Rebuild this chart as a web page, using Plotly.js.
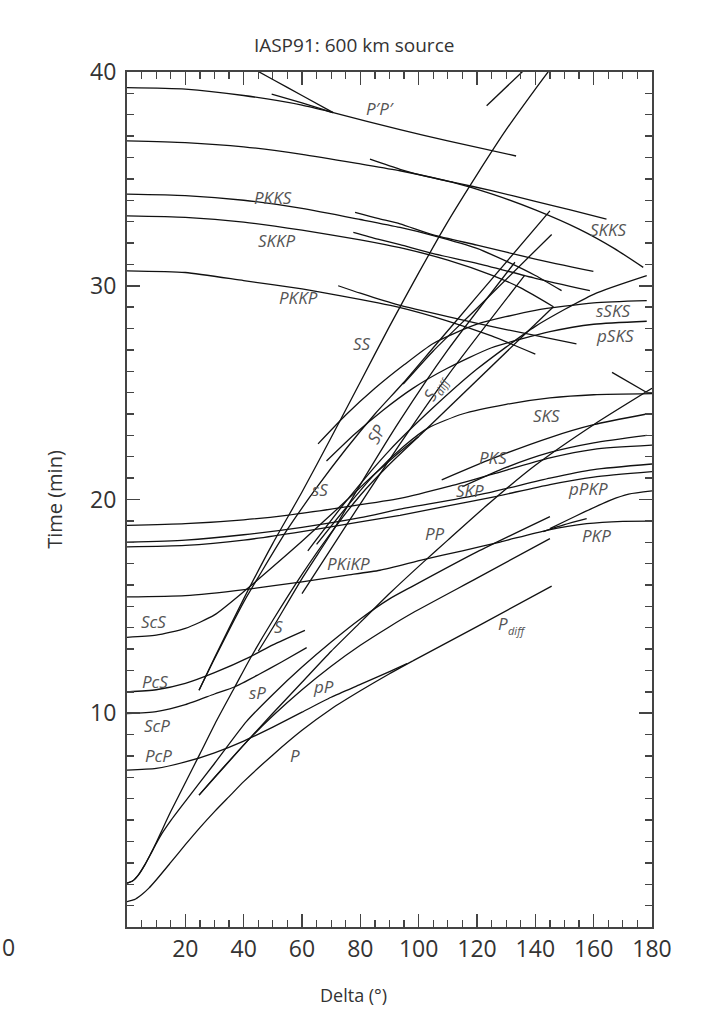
<!DOCTYPE html>
<html><head><meta charset="utf-8">
<script src="https://cdn.plot.ly/plotly-3.0.1.min.js"></script>
<style>html,body{margin:0;padding:0;background:#fff;}#chart{width:714px;height:1024px;}</style>
</head><body><div id="chart"></div>
<script>
// ---- travel-time branches: distance (deg) and time (min) ----
const P_d = [0,2.5,5,7.5,10,15,20,25,30,35,40,50,60,70,80,90,98];
const P_t = [1.19,1.28,1.51,1.82,2.2,3.02,3.85,4.65,5.4,6.1,6.8,8.05,9.2,10.2,11.05,11.85,12.45];
const Pdiff_d = [98,120,145.6];
const Pdiff_t = [12.45,14.05,15.95];
const PcP_d = [0,10,20,30,40,50,60,70,80,90,96];
const PcP_t = [7.34,7.42,7.72,8.15,8.7,9.35,10.05,10.75,11.35,11.95,12.32];
const pP_d = [24.7,30,41,50,60,70,80,90,98,120,145];
const pP_t = [6.17,7.0,8.66,9.88,11.1,12.2,13.18,14.05,14.7,16.32,18.17];
const PP_d = [24.7,30,41,50,60,70,80,90,101.6,110,124.4,140,160,180];
const PP_t = [6.17,6.98,8.66,10.0,11.45,12.9,14.25,15.6,17.07,18.1,19.85,21.6,23.5,25.2];
const sP_d = [0,2,4,6,8,10,12,15,20,30,41,50,60,70,80,90,98,120,145];
const sP_t = [2.05,2.16,2.45,2.88,3.38,3.9,4.38,4.98,5.88,7.65,9.62,10.88,12.16,13.33,14.41,15.35,15.95,17.55,19.2];
const S_d = [0,2,4,6,8,10,12,15,20,25,30.7,37,42.2,50,60,70,80,90,100];
const S_t = [2.05,2.16,2.45,2.88,3.39,3.94,4.53,5.4,6.75,8.1,9.65,11.24,12.55,14.35,16.5,18.45,20.2,21.65,22.95];
const Sdiff_d = [100,146.2];
const Sdiff_t = [22.95,29.02];
const ScS_d = [0,10,20,30,41,50,60,75.3,85,95,100];
const ScS_t = [13.55,13.65,13.97,14.6,15.8,16.85,18.05,19.96,21.2,22.4,22.95];
const ScP_d = [0,10,20,30,37,45,53,61.6];
const ScP_t = [9.98,10.08,10.4,10.9,11.24,11.8,12.4,13.07];
const PcS_d = [0,10,20,30,42.2,50,61];
const PcS_t = [11.0,11.1,11.4,11.9,12.64,13.2,13.88];
const SS_d = [24.7,30,40,50,60,70,80,90,100,110,120,130,140,146];
const SS_t = [11.08,12.6,15.35,17.95,20.35,22.9,25.5,28.1,30.6,33.0,35.2,37.3,39.2,40.3];
const sS_d = [24.7,30,40,46.7,55,65,75,85,94.7,105,120,145];
const sS_t = [11.08,12.55,15.2,16.75,18.6,20.55,22.35,24.0,25.45,27.1,29.5,33.5];
const pS_d = [94.7,105,120,145.6];
const pS_t = [25.4,26.95,28.95,32.4];
const SP_d = [45,50,60,70.7,80,93.6,110,133];
const SP_t = [12.9,14.0,16.3,18.56,20.7,23.7,27.0,31.1];
const PS_d = [60,70,80,93.6,110,136.4];
const PS_t = [15.6,17.7,19.8,22.6,25.8,30.5];
const PKiKP_d = [0,20,41,60,75,86.7,101.6,115,127.9,143.9,157.6,170,180];
const PKiKP_t = [15.44,15.5,15.8,16.15,16.45,16.69,17.19,17.6,18.01,18.56,18.87,18.98,18.99];
const PKPab_d = [145,150,157,165.6,172,180];
const PKPab_t = [18.64,18.97,19.43,19.96,20.25,20.4];
const PKPbc_d = [142.7,150,157.6];
const PKPbc_t = [18.5,18.82,19.1];
const PKS_d = [0,20,40,54.7,75,93.6,110,125.6,145,160,180];
const PKS_t = [18.79,18.87,19.05,19.26,19.65,20.05,20.6,21.2,21.95,22.35,22.54];
const SKP_d = [0,20,40,60,80,93.6,110,125,145,160,180];
const SKP_t = [18.0,18.1,18.35,18.7,19.15,19.55,19.95,20.35,21.0,21.4,21.66];
const pPKP_d = [0,20,40,60,80,93.6,110,125,145,160,180];
const pPKP_t = [17.78,17.85,18.1,18.5,18.95,19.26,19.7,20.1,20.7,21.05,21.3];
const PKSab_d = [107.9,125,145,160,178.2];
const PKSab_t = [20.92,21.9,22.9,23.5,24.0];
const SKPab_d = [115,130,145,160,178.2];
const SKPab_t = [20.6,21.5,22.2,22.65,23.0];
const SKS_d = [65,75,85,95,103.3,115,130,145,160,180];
const SKS_t = [17.9,19.6,21.2,22.5,23.35,24.0,24.45,24.75,24.9,24.95];
const SKSb_d = [166.3,178.5];
const SKSb_t = [25.95,24.98];
const sSKS_d = [65.5,75,85,95,105,120,140,160,178.2];
const sSKS_t = [22.6,23.95,25.2,26.3,27.3,28.2,28.85,29.2,29.3];
const pSKS_d = [68.4,78,88,98,110,125,145,160,178.2];
const pSKS_t = [21.8,23.05,24.2,25.2,26.15,27.1,27.85,28.2,28.34];
const SKKS_d = [62,75,90,105,120,140,160,178.2];
const SKKS_t = [17.6,19.9,22.3,24.3,26.1,28.1,29.6,30.47];
const SKKSr_d = [0,20,40,60,80,93.6,112,125,140,155,167,177];
const SKKSr_t = [36.78,36.7,36.5,36.15,35.7,35.38,34.82,34.3,33.55,32.65,31.75,30.86];
const SKKSb_d = [83.3,93.6,103,112,125,140,152,164.4];
const SKKSb_t = [35.92,35.45,35.1,34.84,34.45,33.95,33.55,33.12];
const PKKS_d = [0,20,40,60,80,93.6,105,120,130,140,149];
const PKKS_t = [34.29,34.22,34.0,33.62,33.1,32.73,32.35,31.75,31.15,30.48,29.77];
const PKKSb_d = [78.2,86,93.6,105,120,140,159.9];
const PKKSb_t = [33.43,33.15,32.9,32.38,31.9,31.25,30.67];
const SKKP_d = [0,20,40,60,80,93.6,110,125,135,146.2];
const SKKP_t = [33.27,33.2,32.98,32.6,32.15,31.78,31.2,30.5,29.9,29.02];
const SKKPb_d = [77.6,86,93.6,105,120,140,158.7];
const SKKPb_t = [32.5,32.18,31.92,31.5,31.05,30.35,29.77];
const PKKP_d = [0,20,40,60,72.4,93,110,125,140];
const PKKP_t = [30.7,30.62,30.24,29.85,29.55,29.0,28.35,27.65,26.8];
const PKKPb_d = [72.4,80,93,110,130,154.1];
const PKKPb_t = [30.0,29.65,29.1,28.55,27.95,27.28];
const PpPp_d = [0,20,40,60,70.7,93.6,110,133.4];
const PpPp_t = [39.27,39.2,38.9,38.45,38.1,37.3,36.78,36.07];
const PpPpb1_d = [44,50,60,70.7];
const PpPpb1_t = [40.1,39.65,38.9,38.1];
const PpPpb2_d = [49.6,60,70.7];
const PpPpb2_t = [38.96,38.55,38.1];
const PpPpc_d = [123.3,137];
const PpPpc_t = [38.42,40.2];

const branches = [
  ['P',P_d,P_t],['Pdiff',Pdiff_d,Pdiff_t],['PcP',PcP_d,PcP_t],['pP',pP_d,pP_t],['PP',PP_d,PP_t],
  ['sP',sP_d,sP_t],['S',S_d,S_t],['Sdiff',Sdiff_d,Sdiff_t],['ScS',ScS_d,ScS_t],['ScP',ScP_d,ScP_t],
  ['PcS',PcS_d,PcS_t],['SS',SS_d,SS_t],['sS',sS_d,sS_t],['pS',pS_d,pS_t],['SP',SP_d,SP_t],['PS',PS_d,PS_t],
  ['PKiKP',PKiKP_d,PKiKP_t],['PKPab',PKPab_d,PKPab_t],['PKPbc',PKPbc_d,PKPbc_t],
  ['PKS',PKS_d,PKS_t],['SKP',SKP_d,SKP_t],['pPKP',pPKP_d,pPKP_t],['PKSab',PKSab_d,PKSab_t],['SKPab',SKPab_d,SKPab_t],
  ['SKS',SKS_d,SKS_t],['SKSb',SKSb_d,SKSb_t],['sSKS',sSKS_d,sSKS_t],['pSKS',pSKS_d,pSKS_t],
  ['SKKS',SKKS_d,SKKS_t],['SKKSr',SKKSr_d,SKKSr_t],['SKKSb',SKKSb_d,SKKSb_t],
  ['PKKS',PKKS_d,PKKS_t],['PKKSb',PKKSb_d,PKKSb_t],['SKKP',SKKP_d,SKKP_t],['SKKPb',SKKPb_d,SKKPb_t],
  ['PKKP',PKKP_d,PKKP_t],['PKKPb',PKKPb_d,PKKPb_t],
  ["P'P'",PpPp_d,PpPp_t],["P'P' b1",PpPpb1_d,PpPpb1_t],["P'P' b2",PpPpb2_d,PpPpb2_t],["P'P' c",PpPpc_d,PpPpc_t]
];

// phase labels (subscripts drawn as separate smaller texts)
const labelText = ['P′P′','PKKS','SKKP','PKKP','SKKS','sSKS','pSKS','SS','SP','S','diff','SKS','PKS','SKP','pPKP','sS','PP','PKiKP','PKP','ScS','S','P','diff','PcS','sP','pP','ScP','PcP','P'];
const labelX = [86.7,50.2,51.3,58.7,165.0,166.7,167.3,80.5,85.6,103.9,108.0,143.9,125.6,117.6,158.1,66.2,105.6,75.9,161.0,9.0,51.9,129.0,133.7,9.6,44.6,67.3,10.2,10.7,57.6];
const labelY = [38.27,34.13,32.1,29.46,32.65,28.84,27.67,27.28,23.07,24.86,25.3,23.93,21.98,20.43,20.5,20.46,18.4,17.0,18.32,14.27,14.04,14.2,13.86,11.47,10.99,11.23,9.44,8.04,8.04];
const labelSize = [17,17,17,17,17,17,17,17,17,17,11,17,17,17,17,17,17,17,17,17,17,17,11,17,17,17,17,17,17];
const labelAngle = [0,0,0,0,0,0,0,0,-62,-62,-62,0,0,0,0,0,0,0,0,0,0,0,0,0,0,0,0,0,0];

const traces = branches.map(b => ({
  type:'scatter', mode:'lines', name:b[0], x:b[1], y:b[2],
  line:{color:'#111', width:1.3, shape:'spline', smoothing:0.6},
  hoverinfo:'name+x+y', showlegend:false, cliponaxis:true
}));

const annotations = labelText.map((t,i) => ({
  text:t, x:labelX[i], y:labelY[i], xref:'x', yref:'y', showarrow:false,
  xanchor:'center', yanchor:'middle',
  textangle:labelAngle[i], font:{family:'Open Sans, sans-serif', size:labelSize[i], color:'#555', style:'italic'}
}));
annotations.push({text:'Delta (°)', xref:'paper', yref:'paper', x:0.432, y:-0.0795,
  xanchor:'center', yanchor:'middle', showarrow:false,
  font:{family:'Open Sans, sans-serif', size:18, color:'#333'}});
annotations.push({text:'0', xref:'paper', yref:'paper', x:-0.226, y:-0.0234,
  xanchor:'center', yanchor:'middle', showarrow:false,
  font:{family:'Open Sans, sans-serif', size:23, color:'#333'}});

const axisCommon = {
  showgrid:false, zeroline:false, showline:true, linecolor:'#444', linewidth:2,
  mirror:'allticks', ticks:'inside', ticklen:13, tickwidth:1.6, tickcolor:'#444',
  tickfont:{family:'Open Sans, sans-serif', size:23, color:'#333'}
};

const layout = {
  width:714, height:1024,
  margin:{l:127, r:62, t:72, b:97},
  paper_bgcolor:'#fff', plot_bgcolor:'#fff',
  title:{text:'IASP91: 600 km source', x:0.496, xref:'container', xanchor:'center',
         y:0.956, yref:'container', yanchor:'middle',
         font:{family:'Open Sans, sans-serif', size:19, color:'#333'}},
  xaxis:Object.assign({}, axisCommon, {
    range:[0,180], tickmode:'array', tickvals:[20,40,60,80,100,120,140,160,180],
    minor:{dtick:5, tick0:0, ticks:'inside', ticklen:7, tickwidth:1.3, tickcolor:'#444', showgrid:false}
  }),
  yaxis:Object.assign({}, axisCommon, {
    range:[0,40], tickmode:'array', tickvals:[10,20,30,40], ticklabelstandoff:4,
    minor:{dtick:1, tick0:0, ticks:'inside', ticklen:7, tickwidth:1.3, tickcolor:'#444', showgrid:false},
    title:{text:'Time (min)', standoff:22, font:{family:'Open Sans, sans-serif', size:20, color:'#333'}}
  }),
  annotations:annotations,
  showlegend:false
};

Plotly.newPlot('chart', traces, layout, {staticPlot:true});
</script></body></html>
